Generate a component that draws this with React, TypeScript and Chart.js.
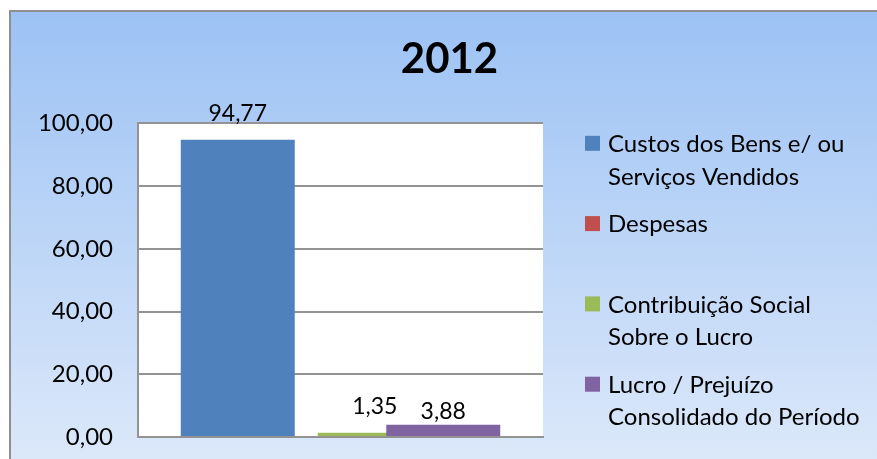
import React, { useEffect, useRef } from "react";
import { Chart, registerables } from "chart.js";

Chart.register(...registerables);

// ---- data ----
const chartTitle = "2012";
const categories = ["2012"];
const seriesLegendLines = [
  ["Custos dos Bens e/ ou", "Serviços Vendidos"],
  ["Despesas"],
  ["Contribuição Social", "Sobre o Lucro"],
  ["Lucro / Prejuízo", "Consolidado do Período"],
];
const custosValues = [94.77];
const despesasValues = [0];
const contribuicaoValues = [1.35];
const lucroValues = [3.88];
const seriesColors = ["#4f81bd", "#c0504d", "#9bbb59", "#8064a2"];
const yTickValues = [0, 20, 40, 60, 80, 100];

// ---- layout (canvas coordinates) ----
const CW = 881;
const CH = 460;
const AREA_LEFT = 129;
const AREA_RIGHT = 534;
const FONT = "Lato";
const GRID = "#939393";

const fmt = (v: number) => v.toFixed(2).replace(".", ",");

const plotBackground = {
  id: "plotBackground",
  beforeDraw(chart: any) {
    const { ctx, chartArea: a } = chart;
    ctx.save();
    ctx.fillStyle = "#ffffff";
    ctx.fillRect(a.left, a.top, a.right - a.left, a.bottom - a.top);
    ctx.restore();
  },
};

// draw datasets in forward order so later series overlap earlier ones (Excel overlap)
const forwardDrawOrder = {
  id: "forwardDrawOrder",
  beforeDatasetsDraw(chart: any) {
    const { ctx, chartArea: a } = chart;
    const metas = chart.getSortedVisibleDatasetMetas();
    ctx.save();
    ctx.beginPath();
    ctx.rect(a.left, a.top - 2, a.right - a.left, a.bottom - a.top + 2);
    ctx.clip();
    for (const m of metas) m.controller.draw();
    ctx.restore();
    return false;
  },
};

const labelGaps = [18.3, 18.3, 18.3, 5.8];
const valueLabels = {
  id: "valueLabels",
  afterDraw(chart: any) {
    const { ctx } = chart;
    ctx.save();
    ctx.font = `23px ${FONT}`;
    ctx.fillStyle = "#000";
    ctx.textAlign = "center";
    ctx.textBaseline = "alphabetic";
    chart.data.datasets.forEach((ds: any, i: number) => {
      const meta = chart.getDatasetMeta(i);
      meta.data.forEach((el: any, j: number) => {
        const v = ds.data[j];
        if (!v) return;
        ctx.fillText(fmt(v), el.x, el.y - labelGaps[i]);
      });
    });
    ctx.restore();
  },
};

const sideLegend = {
  id: "sideLegend",
  afterDraw(chart: any) {
    const { ctx, chartArea: a } = chart;
    ctx.save();
    ctx.font = `24px ${FONT}`;
    ctx.textAlign = "left";
    ctx.textBaseline = "middle";
    seriesLegendLines.forEach((lines, i) => {
      const cy = a.top + 20 + i * 80.3;
      ctx.fillStyle = seriesColors[i];
      ctx.fillRect(a.right + 42, cy - 7.5, 15, 15);
      ctx.fillStyle = "#000";
      lines.forEach((ln, k) => ctx.fillText(ln, a.right + 65, cy + 1 + k * 32.5));
    });
    ctx.restore();
  },
};

export default function App() {
  const ref = useRef<HTMLCanvasElement | null>(null);

  useEffect(() => {
    const canvas = ref.current;
    if (!canvas) return;
    Chart.defaults.font.family = FONT;

    const seriesValues = [custosValues, despesasValues, contribuicaoValues, lucroValues];
    const chart = new Chart(canvas, {
      type: "bar",
      data: {
        labels: categories,
        datasets: seriesLegendLines.map((lines, i) => ({
          label: lines.join(" "),
          data: seriesValues[i],
          backgroundColor: seriesColors[i],
          yAxisID: "y",
        })),
      },
      options: {
        responsive: false,
        maintainAspectRatio: false,
        devicePixelRatio: 1,
        animation: false,
        layout: { padding: { left: 0, right: 0, top: 0, bottom: 33 } },
        datasets: {
          bar: { categoryPercentage: 0.6765, barPercentage: 1.664, borderWidth: 0 },
        },
        plugins: {
          legend: { display: false },
          tooltip: { enabled: false },
          title: {
            display: true,
            text: chartTitle,
            color: "#000",
            font: { family: FONT, size: 42, weight: "bold", lineHeight: 1.2 },
            padding: { top: 24.4, bottom: 38.5 },
          },
        },
        scales: {
          x: {
            type: "category",
            offset: true,
            ticks: { display: false },
            grid: { display: false, drawTicks: false },
            border: { display: true, color: GRID, width: 2 },
          },
          y: {
            type: "linear",
            position: "left",
            min: yTickValues[0],
            max: yTickValues[yTickValues.length - 1],
            afterBuildTicks: (s: any) => {
              s.ticks = yTickValues.map((v) => ({ value: v }));
            },
            afterFit: (s: any) => {
              s.width = AREA_LEFT;
            },
            ticks: {
              color: "#000",
              font: { family: FONT, size: 24 },
              padding: 0,
              callback: (v: any) => fmt(Number(v)),
            },
            grid: {
              color: GRID,
              lineWidth: 2,
              drawTicks: true,
              tickLength: 25,
              tickColor: "rgba(0,0,0,0)",
            },
            border: { display: true, color: GRID, width: 2 },
          },
          yLegendSpace: {
            type: "linear",
            position: "right",
            display: true,
            afterFit: (s: any) => {
              s.width = CW - AREA_RIGHT;
            },
            ticks: { display: false },
            grid: { display: false, drawTicks: false },
            border: { display: false },
          },
        },
      } as any,
      plugins: [plotBackground, forwardDrawOrder, valueLabels, sideLegend],
    });

    return () => chart.destroy();
  }, []);

  return (
    <div
      style={{
        position: "fixed",
        left: 0,
        top: 0,
        width: 877,
        height: 459,
        overflow: "hidden",
        background: "#ffffff",
      }}
    >
      <div
        style={{
          position: "absolute",
          left: 9,
          top: 10,
          width: 920,
          height: 470,
          borderLeft: "2px solid #8f8f8f",
          borderTop: "2px solid #8f8f8f",
          background: "linear-gradient(to bottom, #9cc2f4 0%, #dfeafa 100%)",
        }}
      />
      <canvas
        ref={ref}
        width={CW}
        height={CH}
        style={{ position: "absolute", left: 9, top: 10, width: CW, height: CH }}
      />
    </div>
  );
}
